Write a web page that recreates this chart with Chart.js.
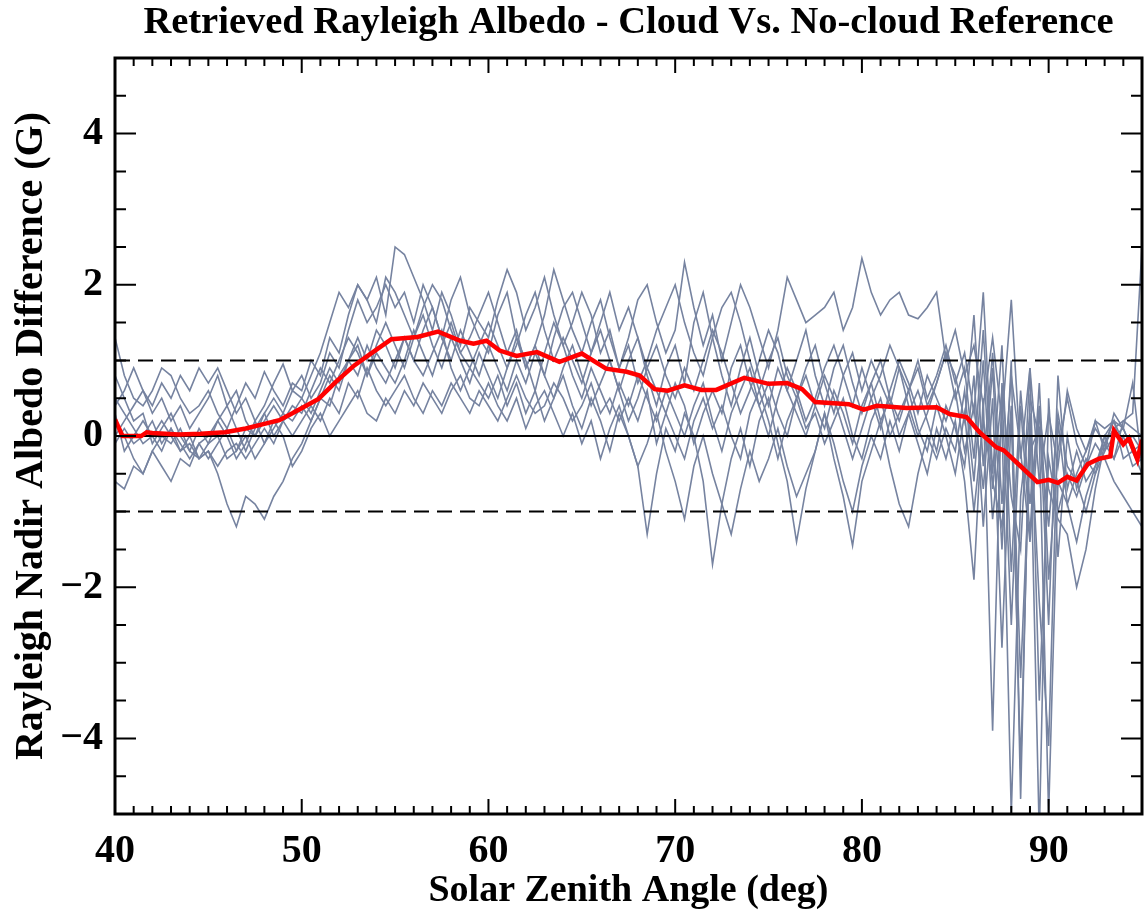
<!DOCTYPE html>
<html>
<head>
<meta charset="utf-8">
<title>Retrieved Rayleigh Albedo</title>
<script src="https://cdn.jsdelivr.net/npm/chart.js@4.4.1/dist/chart.umd.min.js"></script>
<style>
    body { margin: 0; background: #fff; }
    #chart { display: block; }
</style>
</head>
<body>
<canvas id="chart" width="1144" height="919"></canvas>
<script>
// solar zenith angles shared by the individual (grey) retrievals
const angles = [
    40, 40.5, 41, 41.5, 42, 42.5, 43, 43.5, 44, 44.5,
    45, 45.5, 46, 46.5, 47, 47.5, 48, 48.5, 49, 49.5,
    50, 50.5, 51, 51.5, 52, 52.5, 53, 53.5, 54, 54.5,
    55, 55.5, 56, 56.5, 57, 57.5, 58, 58.5, 59, 59.5,
    60, 60.5, 61, 61.5, 62, 62.5, 63, 63.5, 64, 64.5,
    65, 65.5, 66, 66.5, 67, 67.5, 68, 68.5, 69, 69.5,
    70, 70.5, 71, 71.5, 72, 72.5, 73, 73.5, 74, 74.5,
    75, 75.5, 76, 76.5, 77, 77.5, 78, 78.5, 79, 79.5,
    80, 80.5, 81, 81.5, 82, 82.5, 83, 83.5, 84, 84.5,
    85, 85.5, 86, 86.5, 87, 87.5, 88, 88.5, 89, 89.5,
    90, 90.5, 91, 91.5, 92, 92.5, 93, 93.5, 94, 94.5,
    95
];

// individual cloud cases (albedo difference, G)
const case1 = [
    0.4, 0.6, 0.9, 0.6, 0.3, 0.5, 0.2, 0.4, 0.1, 0.3,
    0.5, 0.8, 0.4, 0.6, 0.2, 0.0, 0.3, 0.5, 0.3, 0.6,
    0.5, 0.8, 1.1, 1.5, 1.9, 1.7, 2.0, 1.8, 2.1, 1.6,
    2.5, 2.4, 2.1, 1.8, 1.4, 1.9, 1.6, 1.2, 1.7, 1.5,
    1.3, 1.8, 2.2, 1.9, 1.4, 1.7, 2.1, 1.6, 1.2, 1.5,
    1.9, 1.6, 1.1, 1.4, 0.9, 1.3, 1.8, 2.0, 1.5, 1.1,
    1.4, 2.3, 1.7, 1.2, 1.6, 1.0, 1.5, 2.0, 1.7, 1.3,
    0.9, 1.4, 2.1, 1.8, 1.5, 1.6, 1.7, 1.9, 1.4, 1.7,
    2.35, 1.9, 1.6, 1.8, 1.9, 1.6, 1.55, 1.7, 1.9, 1.0,
    1.4, 0.8, 1.2, 0.4, 1.3, 0.2, 1.8, -0.3, 0.9, -0.6,
    0.3, -0.4, 0.6, 0.1, -0.2, 0.2, 0.1, 0.2, -0.1, 0.0,
    -0.2
];
const case2 = [
    1.3, 0.8, 0.5, 0.4, 0.6, 0.9, 0.8, 0.5, 0.3, 0.4,
    0.6, 0.3, 0.1, 0.4, 0.7, 0.5, 0.85, 0.6, 0.4, 0.7,
    0.6, 1.0, 0.8, 1.3, 1.1, 1.6, 2.0, 1.8, 1.5, 2.1,
    1.9, 1.6, 1.3, 1.7, 2.0, 1.8, 1.4, 1.1, 1.3, 1.6,
    1.9, 1.5, 1.1, 1.4, 0.9, 1.2, 1.6, 2.2, 1.8, 1.4,
    1.1, 1.5, 1.8, 1.3, 0.9, 1.2, 0.7, 1.0, 1.4, 1.7,
    2.0, 1.5, 1.1, 0.8, 1.3, 1.7, 1.9, 1.5, 1.0, 0.6,
    1.0, 1.3, 0.8, 0.5, 0.9, 1.2, 0.7, 0.3, 0.8, 1.1,
    0.6, 1.0, 0.7, 0.4, 0.9, 0.6, 1.0, 0.5, 0.8, 1.2,
    0.7, 1.1, 0.3, 1.9, -0.5, 1.2, -1.8, 0.6, -0.9, 0.4,
    -2.5, 0.8, -0.7, -0.2, -0.6, -0.4, -0.1, 0.1, 0.2, 0.1,
    0.0
];
const case3 = [
    0.8, 0.5, 0.2, 0.3, -0.1, 0.1, 0.3, 0.0, -0.2, 0.1,
    -0.1, 0.2, 0.4, 0.1, -0.2, 0.1, 0.3, 0.0, 0.2, 0.4,
    0.3, 0.6, 0.9, 0.7, 1.0, 1.3, 1.1, 0.8, 1.2, 1.5,
    1.2, 0.9, 1.3, 1.6, 1.2, 0.9, 1.3, 1.0, 0.7, 1.1,
    0.8, 0.5, 0.9, 1.3, 1.0, 0.6, 1.1, 1.5, 1.2, 0.8,
    0.5, 0.9, 0.6, 0.3, 0.7, 0.4, 0.8, 0.5, 0.2, 0.6,
    0.3, 0.0, 0.4, 0.7, 0.2, -0.2, 0.3, 0.6, 0.9, 0.4,
    0.7, 0.3, 0.0, 0.5, 0.8, 0.4, 0.1, 0.6, 0.3, -0.1,
    0.4, 0.7, 0.2, 0.5, 0.0, 0.3, 0.6, 0.2, -0.2, 0.4,
    0.1, -0.4, 0.8, -1.2, 0.5, -2.8, 0.3, -4.4, 0.2, -5.3,
    0.5, -1.6, 0.0, -0.7, -0.3, -0.5, -0.2, 0.0, 0.1, -0.2,
    -0.1
];
const case4 = [
    0.2, 0.0, -0.3, -0.5, -0.2, -0.4, -0.6, -0.3, -0.4, -0.1,
    -0.3, -0.1, 0.1, -0.2, 0.0, -0.3, -0.1, 0.2, 0.0, -0.4,
    -0.2, 0.1, 0.3, 0.0, 0.2, 0.4, 0.6, 0.3, 0.2, 0.5,
    0.3, 0.6, 0.4, 0.7, 0.5, 0.3, 0.6, 0.8, 0.5, 0.4,
    0.7, 0.4, 0.2, 0.5, 0.1, 0.4, 0.6, 0.3, 0.0, 0.3,
    -0.1, 0.2, -0.3, 0.1, 0.4, 0.0, -0.4, -0.1, 0.3, -0.2,
    -0.6, -1.1, -0.4, 0.0, -0.5, -0.9, -1.3, -0.7, -0.2, -0.6,
    -0.3, 0.1, -0.4, -0.8, -0.5, -0.2, 0.3, -0.1, -0.6, -1.0,
    -0.4, 0.0, -0.3, 0.2, -0.2, 0.3, -0.1, -0.5, 0.1, -0.3,
    0.2, -0.6, -1.9, 0.5, -3.9, 0.7, -0.8, -1.5, 0.9, -3.5,
    -0.3, -1.0, -0.5, -0.8, -0.4, -0.1, -0.3, -0.6, -0.8, -1.0,
    -1.2
];
const case5 = [
    0.5, 0.3, 0.1, -0.1, 0.0, 0.2, 0.0, -0.2, -0.1, -0.3,
    -0.2, -0.5, -0.9, -1.2, -0.8, -0.9, -1.1, -0.8, -0.6, -0.3,
    -0.1, 0.2, 0.5, 0.4, 0.8, 1.0, 0.8, 1.2, 0.9, 0.7,
    1.0, 1.3, 1.0, 0.8, 1.1, 1.4, 0.9, 0.6, 0.9, 0.7,
    0.5, 0.8, 0.4, 0.7, 0.3, 0.6, 0.2, 0.5, 0.8, 0.4,
    0.1, 0.5, 0.2, -0.2, 0.3, 0.0, -0.4, -1.3, -0.5, 0.1,
    -0.2, 0.3, 0.0, -0.6, -1.7, -0.9, -0.3, 0.1, -0.4, 0.2,
    0.5, -0.1, -0.6, -1.4, -0.7, -0.2, 0.3, -0.3, -0.8, -1.45,
    -0.6, -0.2, 0.2, -0.4, -0.9, -1.2, -0.5, 0.0, -0.3, 0.1,
    -0.2, 0.6, -0.6, 1.0, -1.1, 0.2, -5.0, -0.8, 0.3, -2.2,
    -4.1, 0.2, -0.9, -0.5, -0.2, 0.1, -0.1, -0.3, 0.0, -0.4,
    -0.3
];
const case6 = [
    -0.6, -0.7, -0.4, -0.5, -0.2, 0.0, -0.1, 0.1, -0.2, -0.3,
    -0.1, 0.0, -0.3, -0.2, 0.1, 0.0, 0.2, 0.4, 0.2, 0.3,
    0.5, 0.3, 0.6, 0.9, 0.7, 1.0, 1.2, 0.8, 1.1, 0.9,
    0.7, 1.0, 1.4, 1.1, 0.8, 1.2, 1.5, 1.1, 0.9, 1.2,
    1.5, 1.2, 0.9, 1.2, 1.6, 1.9, 1.4, 1.0, 1.3, 1.0,
    0.7, 1.1, 1.4, 1.0, 0.6, 1.0, 1.3, 0.8, 0.4, 0.9,
    1.2, 0.7, 1.5, 1.9, 1.3, 0.8, 0.4, 0.9, 1.3, 0.8,
    0.4, 0.9, 0.6, 1.0, 1.4, 0.8, 0.4, 0.9, 1.2, 0.7,
    0.3, 0.7, 1.0, 0.5, 0.2, 0.6, 0.9, 0.4, 0.7, 1.1,
    0.5, 0.9, -0.3, 1.4, -0.7, 0.6, -2.5, 0.4, -1.3, 0.7,
    -1.9, -0.2, 0.5, -0.1, -0.4, 0.2, -0.2, 0.3, 0.1, 0.7,
    -0.4
];
const case7 = [
    0.0, 0.2, 0.4, 0.6, 0.4, 0.7, 0.5, 0.8, 0.6, 0.9,
    0.7, 0.9, 0.6, 0.3, 0.5, 0.2, 0.4, 0.7, 0.95, 0.6,
    0.8, 0.5, 0.7, 1.1, 0.9, 1.4, 1.8, 1.5, 1.7, 2.0,
    1.7, 1.9, 1.5, 2.0, 1.7, 1.3, 1.8, 2.1, 1.6, 1.3,
    1.1, 1.6, 1.9, 1.3, 0.9, 1.2, 0.8, 1.3, 1.7, 1.9,
    1.5, 1.1, 1.5, 1.9, 1.4, 1.7, 1.3, 0.9, 1.2, 0.8,
    0.5, 0.9, 0.6, 1.0, 1.4, 1.1, 0.7, 0.3, 0.6, 1.0,
    1.4, 1.1, 0.6, 0.3, 0.0, 0.4, 0.8, 0.5, 0.1, -0.3,
    0.1, 0.5, 0.8, 1.2, 0.9, 0.4, 0.0, 0.3, 0.7, 1.1,
    0.8, 0.2, 1.6, -0.4, 1.1, -0.9, 0.8, -0.2, -1.4, 0.3,
    -0.7, -1.1, -1.3, -2.0, -1.5, -0.7, -0.1, 0.2, -0.3, -0.2,
    -0.5
];
const case8 = [
    -0.1, 0.1, -0.1, 0.0, 0.2, -0.1, 0.1, -0.2, 0.0, -0.3,
    -0.2, -0.4, -0.2, -0.1, -0.3, -0.1, 0.1, -0.1, 0.2, 0.0,
    0.2, 0.4, 0.2, 0.5, 0.3, 0.7, 0.5, 0.9, 0.6, 0.4,
    0.6, 0.8, 0.5, 0.3, 0.6, 0.4, 0.7, 0.5, 0.3, 0.6,
    0.4, 0.2, 0.5, 0.8, 0.5, 0.3, 0.4, 0.7, 0.5, 0.2,
    0.4, 0.7, 0.3, 0.5, 0.2, 0.5, 0.2, 0.6, -0.1, 0.3,
    0.0, -0.3, 0.2, 0.5, 0.1, 0.4, 0.0, -0.3, 0.3, 0.6,
    0.2, -0.3, 0.2, 0.5, 0.1, 0.3, -0.1, 0.2, 0.5, 0.0,
    -0.3, 0.2, 0.5, 0.0, 0.3, 0.6, 0.1, -0.2, 0.4, 0.0,
    -0.5, 0.3, -1.0, 0.2, -0.6, -1.2, 0.4, -3.2, -0.2, 0.1,
    -1.2, 0.3, -0.4, -0.6, -1.0, -0.5, 0.0, 0.2, 0.1, -0.2,
    -0.3
];
const case9 = [
    0.3, -0.2, 0.0, 0.2, 0.0, -0.2, 0.1, -0.1, -0.3, -0.1,
    0.0, 0.2, 0.0, -0.3, -0.1, 0.2, -0.1, 0.1, 0.3, 0.2,
    0.4, 0.2, 0.5, 0.8, 0.6, 1.0, 1.3, 1.0, 1.4, 1.2,
    0.9, 1.3, 1.0, 1.4, 1.7, 1.3, 1.0, 1.4, 1.1, 0.8,
    1.2, 0.9, 0.6, 1.0, 0.7, 1.1, 0.8, 0.5, 0.9, 1.2,
    0.8, 0.4, 0.7, 1.0, 0.6, 0.2, 0.5, 0.9, 0.6, 0.3,
    0.7, 0.4, -0.1, 0.3, 0.6, 0.3, 0.9, 1.2, 0.7, 0.4,
    0.0, 0.5, 0.9, 0.6, 0.2, 0.5, 0.9, 1.2, 0.8, 0.4,
    0.9, 0.5, 0.1, 0.6, 1.0, 0.7, 0.3, 0.8, 0.5, 0.2,
    0.6, -0.2, 0.4, -0.7, 0.9, -1.5, 1.0, -4.8, 0.5, 0.0,
    -5.0, -0.6, -0.9, -1.4, -0.8, -0.4, 0.0, -0.3, 0.2, 0.3,
    2.5
];
const cases = [case1, case2, case3, case4, case5, case6, case7, case8, case9];

// mean curve (red)
const meanAngles = [
    40, 40.4, 41.4, 41.7, 42, 43.4, 44.6, 45.9, 47, 48,
    48.8, 49.5, 50.9, 51.8, 52.8, 53.7, 54.8, 56.2, 57.3, 58.5,
    59.2, 59.9, 60.6, 61.5, 62.6, 63.8, 65, 66.3, 67.4, 68.1,
    68.9, 69.6, 70.5, 71.4, 72.2, 73.7, 75, 76, 76.8, 77.5,
    79.3, 80.1, 80.8, 82.4, 84, 84.7, 85.6, 86.3, 87.2, 87.6,
    88.5, 89.4, 90, 90.5, 91, 91.5, 92.1, 92.7, 93.3, 93.5,
    94, 94.3, 94.75, 95
];
const meanValues = [
    0.22, 0.0, 0.0, 0.05, 0.04, 0.02, 0.03, 0.05, 0.1, 0.16,
    0.21, 0.3, 0.49, 0.71, 0.93, 1.09, 1.28, 1.31, 1.38, 1.26,
    1.22, 1.26, 1.13, 1.06, 1.11, 0.98, 1.09, 0.89, 0.85, 0.8,
    0.62, 0.6, 0.67, 0.61, 0.61, 0.77, 0.69, 0.7, 0.62, 0.45,
    0.42, 0.35, 0.4, 0.37, 0.38, 0.29, 0.25, 0.05, -0.15, -0.19,
    -0.4, -0.61, -0.58, -0.62, -0.54, -0.59, -0.37, -0.3, -0.27, 0.07,
    -0.11, -0.03, -0.31, -0.05
];

// reference levels
const refLevels = [-1, 0, 1];

const xTickValues = [40, 50, 60, 70, 80, 90];
const yTickValues = [-4, -2, 0, 2, 4];

const serif = "'Liberation Serif', 'DejaVu Serif', serif";
const grey = 'rgb(118, 131, 160)';

// IDL style box with inward major/minor ticks on all four sides
const boxTicks = {
    id: 'boxTicks',
    afterDatasetsDraw(chart) {
        const { ctx, chartArea: a, scales: { x, y } } = chart;
        ctx.save();
        ctx.strokeStyle = '#000';
        ctx.lineWidth = 2;
        ctx.beginPath();
        for (let v = 40; v <= 95; v += 1) {
            const px = x.getPixelForValue(v);
            const len = v % 10 === 0 ? 15 : 8;
            ctx.moveTo(px, a.bottom);
            ctx.lineTo(px, a.bottom - len);
            ctx.moveTo(px, a.top);
            ctx.lineTo(px, a.top + len);
        }
        for (let v = -5; v <= 5; v += 0.5) {
            const py = y.getPixelForValue(v);
            const len = v % 2 === 0 ? 21 : 11;
            ctx.moveTo(a.left, py);
            ctx.lineTo(a.left + len, py);
            ctx.moveTo(a.right, py);
            ctx.lineTo(a.right - len, py);
        }
        ctx.stroke();
        ctx.lineWidth = 3;
        ctx.strokeRect(a.left, a.top, a.right - a.left, a.bottom - a.top);
        ctx.restore();
    }
};

const datasets = [];

datasets.push({
    label: 'Mean',
    data: meanAngles.map((a, i) => ({ x: a, y: meanValues[i] })),
    borderColor: '#ff0000',
    borderWidth: 4.5,
    order: 0
});

refLevels.forEach(level => {
    datasets.push({
        label: 'ref ' + level,
        data: [{ x: 40, y: level }, { x: 95, y: level }],
        borderColor: '#000',
        borderWidth: 2,
        borderDash: level === 0 ? [] : [15, 8],
        order: 1
    });
});

cases.forEach((c, k) => {
    datasets.push({
        label: 'case ' + (k + 1),
        data: angles.map((a, i) => ({ x: a, y: c[i] })),
        borderColor: grey,
        borderWidth: 1.6,
        order: 2
    });
});

new Chart(document.getElementById('chart'), {
    type: 'line',
    data: { datasets },
    plugins: [boxTicks],
    options: {
        responsive: false,
        animation: false,
        layout: { padding: { right: 2 } },
        elements: {
            point: { radius: 0 },
            line: { tension: 0 }
        },
        plugins: {
            legend: { display: false },
            tooltip: { enabled: false },
            title: {
                display: true,
                fullSize: false,
                text: 'Retrieved Rayleigh Albedo - Cloud Vs. No-cloud Reference',
                color: '#000',
                font: { family: serif, size: 38.5, weight: 'bold', lineHeight: 1.0 },
                padding: { top: 4, bottom: 15.5 }
            }
        },
        scales: {
            x: {
                type: 'linear',
                min: 40,
                max: 95,
                grid: { display: false, drawTicks: false },
                border: { display: false },
                afterBuildTicks: s => { s.ticks = xTickValues.map(v => ({ value: v })); },
                afterFit: s => { s.height = 105; },
                ticks: {
                    color: '#000',
                    padding: 14,
                    maxRotation: 0,
                    autoSkip: false,
                    font: { family: serif, size: 40, weight: 'bold' }
                },
                title: {
                    display: true,
                    text: 'Solar Zenith Angle (deg)',
                    color: '#000',
                    font: { family: serif, size: 38, weight: 'bold', lineHeight: 1.2 },
                    padding: { top: 0, bottom: 5 }
                }
            },
            y: {
                type: 'linear',
                min: -5,
                max: 5,
                grid: { display: false, drawTicks: false },
                border: { display: false },
                afterBuildTicks: s => { s.ticks = yTickValues.map(v => ({ value: v })); },
                afterFit: s => { s.width = 115; },
                ticks: {
                    color: '#000',
                    padding: 12,
                    autoSkip: false,
                    font: { family: serif, size: 40, weight: 'bold' },
                    callback: v => (v < 0 ? '\u2212' + Math.abs(v) : String(v))
                },
                title: {
                    display: true,
                    text: 'Rayleigh Nadir Albedo Difference (G)',
                    color: '#000',
                    font: { family: serif, size: 40, weight: 'bold', lineHeight: 1.2 },
                    padding: { top: 8, bottom: 0 }
                }
            }
        }
    }
});
</script>
</body>
</html>
